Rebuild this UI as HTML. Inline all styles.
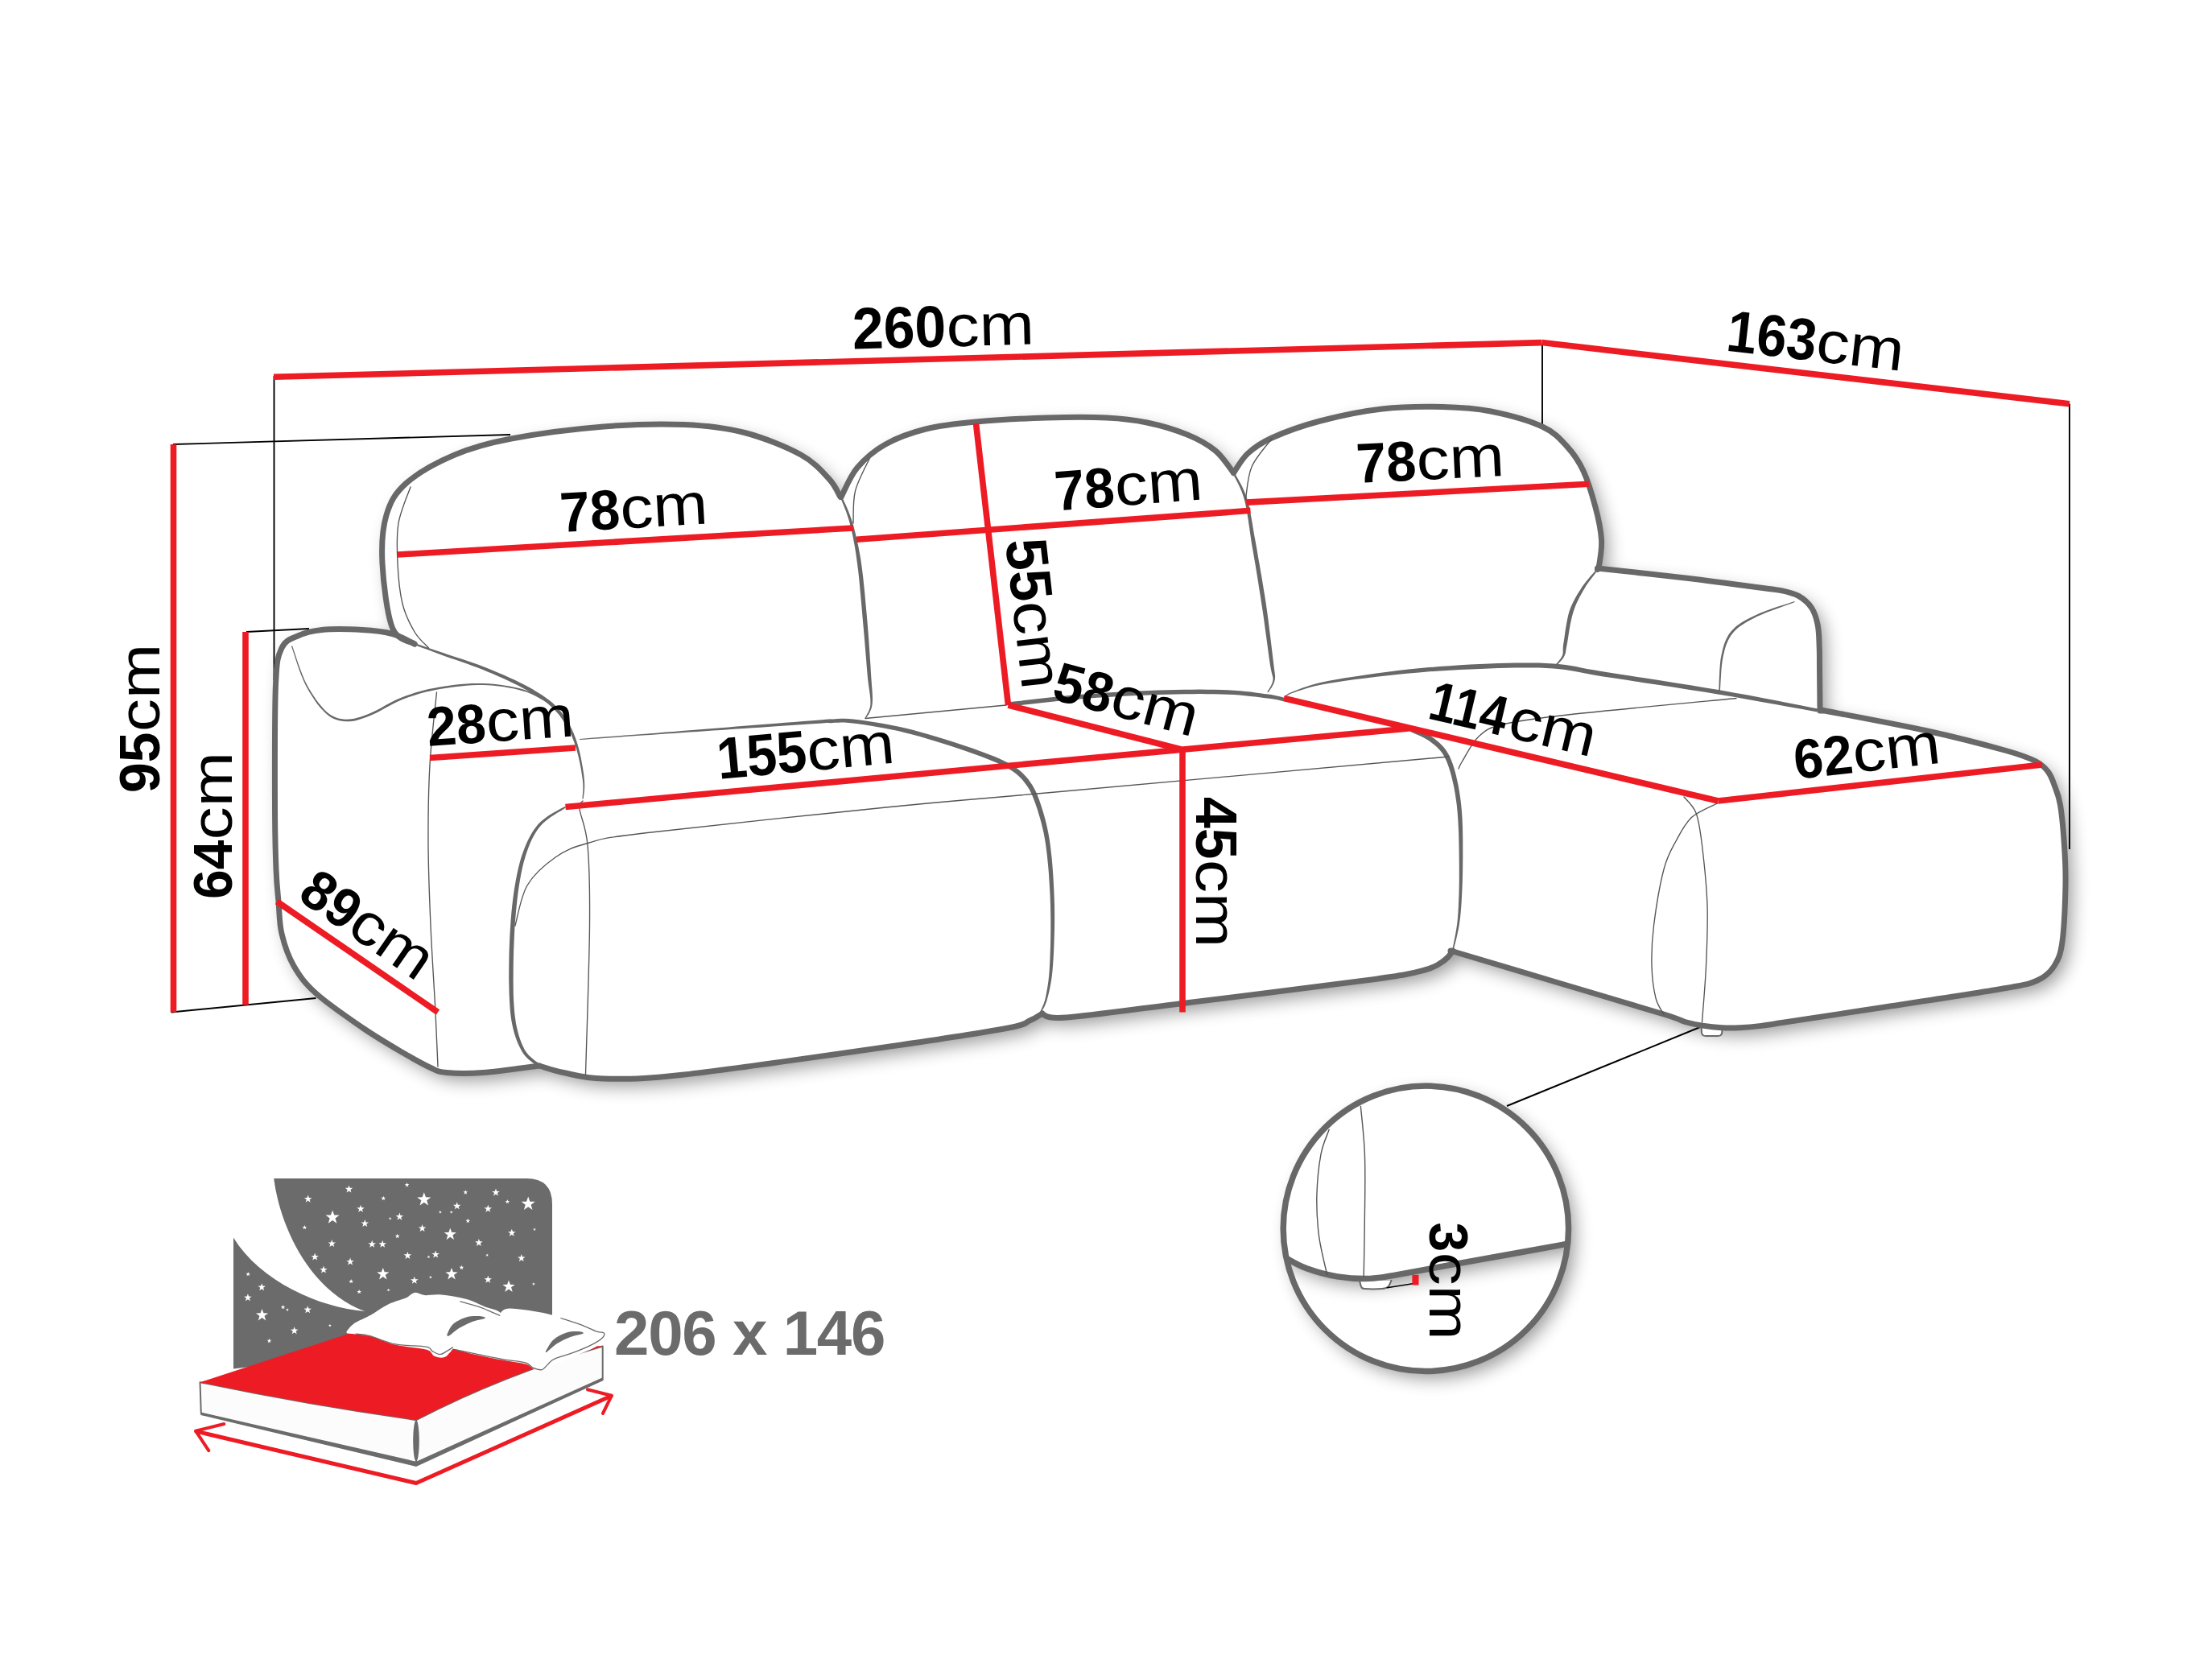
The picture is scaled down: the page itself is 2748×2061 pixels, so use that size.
<!DOCTYPE html>
<html><head><meta charset="utf-8"><title>Sofa dimensions</title>
<style>html,body{margin:0;padding:0;background:#fff}svg{display:block}text{font-family:"Liberation Sans",sans-serif;fill:#000}.b{font-weight:bold;font-size:73px}.r{font-weight:normal;font-size:73px}</style></head><body>
<svg width="2748" height="2061" viewBox="0 0 2748 2061">
<defs><filter id="sh" filterUnits="userSpaceOnUse" x="0" y="0" width="2748" height="2061"><feGaussianBlur in="SourceAlpha" stdDeviation="11"/><feOffset dx="8" dy="9"/><feComponentTransfer><feFuncA type="linear" slope="0.4"/></feComponentTransfer><feMerge><feMergeNode/><feMergeNode in="SourceGraphic"/></feMerge></filter><path id="st" d="M0,-10 L2.4,-3.2 9.5,-3.1 3.8,1.2 5.9,8.1 0,4 -5.9,8.1 -3.8,1.2 -9.5,-3.1 -2.4,-3.2Z" fill="#fff"/></defs>
<rect width="2748" height="2061" fill="#fff"/>
<g stroke="#000" stroke-width="1.9" fill="none">
<path d="M340.5,467 L340.5,845"/>
<path d="M215,552 L634,540"/>
<path d="M306,785 L384,781"/>
<path d="M212.5,1257.5 L392.5,1240"/>
<path d="M1916,427 L1916,529"/>
<path d="M2571,501.5 L2571,1055"/>
<path d="M1872,1374 L2114.5,1275"/>
</g>
<g fill="none" stroke="#686868" stroke-linecap="round" stroke-linejoin="round">
<path d="M1044,617.5 C1041.7,613.8 1038.2,603.8 1030,595 C1021.8,586.2 1012.5,574.6 995,565 C977.5,555.4 949.2,543.8 925,537.5 C900.8,531.2 879.2,528.8 850,527.5 C820.8,526.2 785.8,527.1 750,530 C714.2,532.9 665.8,539.2 635,545 C604.2,550.8 586.7,555.8 565,565 C543.3,574.2 519.2,587.5 505,600 C490.8,612.5 485,623.3 480,640 C475,656.7 473.8,676.7 475,700 C476.2,723.3 480.8,763.3 487.5,780 C494.2,796.7 510.4,796.7 515,800 L515,800 C510.4,797.9 498.3,790.4 487.5,787.5 C476.7,784.6 464.6,783.3 450,782.5 C435.4,781.7 413.3,781.2 400,782.5 C386.7,783.8 378.3,786.2 370,790 C361.7,793.8 354.6,795 350,805 C345.4,815 343.9,817.5 342.5,850 C341.1,882.5 341.4,961.7 341.5,1000 C341.6,1038.3 342.2,1060 343,1080 C343.8,1100 344.8,1106.7 346,1120 C347.2,1133.3 346.8,1146.7 350,1160 C353.2,1173.3 357.9,1187.7 365,1200 C372.1,1212.3 378.3,1221.2 392.5,1234 C406.7,1246.8 432.1,1264.2 450,1276.5 C467.9,1288.8 485.8,1299.2 500,1307.5 C514.2,1315.8 525.8,1322.3 535,1326.5 C544.2,1330.7 544.2,1331.5 555,1332.5 C565.8,1333.5 580.8,1333.9 600,1332.5 C619.2,1331.1 658.3,1325.4 670,1324 L670,1324 C675,1325.4 686.7,1329.8 700,1332.5 C713.3,1335.2 725,1339.6 750,1340 C775,1340.4 790.8,1341.7 850,1335 C909.2,1328.3 1038.8,1309.6 1105.5,1300 C1172.2,1290.4 1220.9,1282.9 1250,1277.5 C1279.1,1272.1 1272.5,1270.6 1280,1267.5 C1287.5,1264.4 1292.5,1260.4 1295,1259 L1295,1260 C1300,1260.7 1296,1266.2 1325,1264 C1354,1261.8 1406.5,1254.2 1469,1246.5 C1531.5,1238.8 1649.8,1224.4 1700,1217.5 C1750.2,1210.6 1754.2,1209.2 1770,1205 C1785.8,1200.8 1789.2,1196.5 1795,1192.5 C1800.8,1188.5 1803.3,1182.9 1805,1181 L1802,1181 C1824.1,1187.6 1890.3,1207.3 1934.5,1220.5 C1978.7,1233.7 2040.5,1251.8 2067,1260 C2093.5,1268.2 2085.3,1267.2 2093.3,1269.5 C2101.3,1271.8 2107.3,1272.9 2115,1274.1 C2122.7,1275.3 2131.7,1276.3 2139.4,1276.8 C2147.1,1277.2 2153,1277.2 2161.1,1276.8 C2169.2,1276.4 2179.2,1275.5 2188.2,1274.4 C2197.2,1273.3 2189.7,1274.2 2215.3,1270.3 C2240.9,1266.4 2295.9,1258.1 2342,1251 C2388.1,1243.9 2460.3,1233.1 2492,1227.5 C2523.7,1221.9 2522,1222.1 2532,1217.5 C2542,1212.9 2547,1207.9 2552,1200 C2557,1192.1 2559.7,1186.7 2562,1170 C2564.3,1153.3 2565.6,1120 2566,1100 C2566.4,1080 2565.6,1066.7 2564.5,1050 C2563.4,1033.3 2561.6,1012.5 2559.5,1000 C2557.4,987.5 2554.5,981.8 2552,975 C2549.5,968.2 2548.2,963.8 2544.5,959 C2540.8,954.2 2538.2,950.4 2529.5,946 C2520.8,941.6 2514.9,938.9 2492,932.5 C2469.1,926.1 2429.9,915.8 2392,907.5 C2354.1,899.2 2285.8,886.7 2264.5,882.5 L2264.5,882.5 L2264.5,882.5 L2264.5,883 L2261,883 C2261,879.2 2260.9,868.8 2260.8,860 C2260.7,851.2 2260.6,839.3 2260.5,830 C2260.4,820.7 2260.6,812.8 2260.2,804 C2259.8,795.2 2259.9,785.1 2258.3,777 C2256.7,768.9 2254.7,761.4 2250.7,755.3 C2246.7,749.2 2240.7,744 2234.4,740.4 C2228.1,736.8 2221.8,735.5 2212.7,733.6 C2203.6,731.8 2198.8,731.8 2180,729.3 C2161.2,726.8 2132.6,722.6 2100,718.7 C2067.4,714.8 2003.8,708.1 1984.5,706 L1984.5,707.5 C1984.9,706.2 1986.2,706.2 1987,700 C1987.8,693.8 1990.3,681.7 1989.5,670 C1988.7,658.3 1985.8,644.2 1982,630 C1978.2,615.8 1972.8,597.5 1967,585 C1961.2,572.5 1955.5,564.2 1947,555 C1938.5,545.8 1931.8,537.3 1916,530 C1900.2,522.7 1872.7,515.1 1852,511 C1831.3,506.9 1814.5,506 1792,505.5 C1769.5,505 1742.3,505.1 1717,508 C1691.7,510.9 1662.8,517 1640,523 C1617.2,529 1595,537.2 1580,544 C1565,550.8 1557.9,556.2 1550,563.5 C1542.1,570.8 1535.4,583.5 1532.5,587.5 L1532.5,587.5 C1528.8,582.9 1519.6,567.9 1510,560 C1500.4,552.1 1489.2,545.8 1475,540 C1460.8,534.2 1441.7,528.5 1425,525 C1408.3,521.5 1395.8,520 1375,519 C1354.2,518 1327.1,518.2 1300,519 C1272.9,519.8 1237.5,521.7 1212.5,524 C1187.5,526.3 1168.8,528.3 1150,533 C1131.2,537.7 1114.2,544 1100,552 C1085.8,560 1074.2,570.1 1065,581 C1055.8,591.9 1048.3,611.4 1045,617.5Z" fill="#fff" stroke="none" filter="url(#sh)"/>
<path d="M2113.6,1276 L2114,1283 Q2114.5,1287 2119,1287 L2134,1287 Q2138.8,1287 2139.2,1283 L2139.6,1276Z" fill="#fff" stroke-width="2"/>
<g stroke-width="7">
<path d="M515,800 C510.4,797.9 498.3,790.4 487.5,787.5 C476.7,784.6 464.6,783.3 450,782.5 C435.4,781.7 413.3,781.2 400,782.5 C386.7,783.8 378.3,786.2 370,790 C361.7,793.8 354.6,795 350,805 C345.4,815 343.9,817.5 342.5,850 C341.1,882.5 341.4,961.7 341.5,1000 C341.6,1038.3 342.2,1060 343,1080 C343.8,1100 344.8,1106.7 346,1120 C347.2,1133.3 346.8,1146.7 350,1160 C353.2,1173.3 357.9,1187.7 365,1200 C372.1,1212.3 378.3,1221.2 392.5,1234 C406.7,1246.8 432.1,1264.2 450,1276.5 C467.9,1288.8 485.8,1299.2 500,1307.5 C514.2,1315.8 525.8,1322.3 535,1326.5 C544.2,1330.7 544.2,1331.5 555,1332.5 C565.8,1333.5 580.8,1333.9 600,1332.5 C619.2,1331.1 658.3,1325.4 670,1324"/>
<path d="M670,1324 C675,1325.4 686.7,1329.8 700,1332.5 C713.3,1335.2 725,1339.6 750,1340 C775,1340.4 790.8,1341.7 850,1335 C909.2,1328.3 1038.8,1309.6 1105.5,1300 C1172.2,1290.4 1220.9,1282.9 1250,1277.5 C1279.1,1272.1 1272.5,1270.6 1280,1267.5 C1287.5,1264.4 1292.5,1260.4 1295,1259"/>
<path d="M1295,1260 C1300,1260.7 1296,1266.2 1325,1264 C1354,1261.8 1406.5,1254.2 1469,1246.5 C1531.5,1238.8 1649.8,1224.4 1700,1217.5 C1750.2,1210.6 1754.2,1209.2 1770,1205 C1785.8,1200.8 1789.2,1196.5 1795,1192.5 C1800.8,1188.5 1803.3,1182.9 1805,1181"/>
<path d="M1802,1181 C1824.1,1187.6 1890.3,1207.3 1934.5,1220.5 C1978.7,1233.7 2040.5,1251.8 2067,1260 C2093.5,1268.2 2085.3,1267.2 2093.3,1269.5 C2101.3,1271.8 2107.3,1272.9 2115,1274.1 C2122.7,1275.3 2131.7,1276.3 2139.4,1276.8 C2147.1,1277.2 2153,1277.2 2161.1,1276.8 C2169.2,1276.4 2179.2,1275.5 2188.2,1274.4 C2197.2,1273.3 2189.7,1274.2 2215.3,1270.3 C2240.9,1266.4 2295.9,1258.1 2342,1251 C2388.1,1243.9 2460.3,1233.1 2492,1227.5 C2523.7,1221.9 2522,1222.1 2532,1217.5 C2542,1212.9 2547,1207.9 2552,1200 C2557,1192.1 2559.7,1186.7 2562,1170 C2564.3,1153.3 2565.6,1120 2566,1100 C2566.4,1080 2565.6,1066.7 2564.5,1050 C2563.4,1033.3 2561.6,1012.5 2559.5,1000 C2557.4,987.5 2554.5,981.8 2552,975 C2549.5,968.2 2548.2,963.8 2544.5,959 C2540.8,954.2 2538.2,950.4 2529.5,946 C2520.8,941.6 2514.9,938.9 2492,932.5 C2469.1,926.1 2429.9,915.8 2392,907.5 C2354.1,899.2 2285.8,886.7 2264.5,882.5"/>
<path d="M2264.5,882.5 L2264.5,882.5"/>
<path d="M2264.5,883 L2261,883 C2261,879.2 2260.9,868.8 2260.8,860 C2260.7,851.2 2260.6,839.3 2260.5,830 C2260.4,820.7 2260.6,812.8 2260.2,804 C2259.8,795.2 2259.9,785.1 2258.3,777 C2256.7,768.9 2254.7,761.4 2250.7,755.3 C2246.7,749.2 2240.7,744 2234.4,740.4 C2228.1,736.8 2221.8,735.5 2212.7,733.6 C2203.6,731.8 2198.8,731.8 2180,729.3 C2161.2,726.8 2132.6,722.6 2100,718.7 C2067.4,714.8 2003.8,708.1 1984.5,706"/>
<path d="M1984.5,707.5 C1984.9,706.2 1986.2,706.2 1987,700 C1987.8,693.8 1990.3,681.7 1989.5,670 C1988.7,658.3 1985.8,644.2 1982,630 C1978.2,615.8 1972.8,597.5 1967,585 C1961.2,572.5 1955.5,564.2 1947,555 C1938.5,545.8 1931.8,537.3 1916,530 C1900.2,522.7 1872.7,515.1 1852,511 C1831.3,506.9 1814.5,506 1792,505.5 C1769.5,505 1742.3,505.1 1717,508 C1691.7,510.9 1662.8,517 1640,523 C1617.2,529 1595,537.2 1580,544 C1565,550.8 1557.9,556.2 1550,563.5 C1542.1,570.8 1535.4,583.5 1532.5,587.5"/>
<path d="M1532.5,587.5 C1528.8,582.9 1519.6,567.9 1510,560 C1500.4,552.1 1489.2,545.8 1475,540 C1460.8,534.2 1441.7,528.5 1425,525 C1408.3,521.5 1395.8,520 1375,519 C1354.2,518 1327.1,518.2 1300,519 C1272.9,519.8 1237.5,521.7 1212.5,524 C1187.5,526.3 1168.8,528.3 1150,533 C1131.2,537.7 1114.2,544 1100,552 C1085.8,560 1074.2,570.1 1065,581 C1055.8,591.9 1048.3,611.4 1045,617.5"/>
<path d="M1044,617.5 C1041.7,613.8 1038.2,603.8 1030,595 C1021.8,586.2 1012.5,574.6 995,565 C977.5,555.4 949.2,543.8 925,537.5 C900.8,531.2 879.2,528.8 850,527.5 C820.8,526.2 785.8,527.1 750,530 C714.2,532.9 665.8,539.2 635,545 C604.2,550.8 586.7,555.8 565,565 C543.3,574.2 519.2,587.5 505,600 C490.8,612.5 485,623.3 480,640 C475,656.7 473.8,676.7 475,700 C476.2,723.3 480.8,763.3 487.5,780 C494.2,796.7 510.4,796.7 515,800"/>
</g>
<path fill="#686868" stroke="none" d="M1044.1,617.9 1045,620.3 1046.2,623.4 1047.7,627 1049.4,631.2 1051.1,635.6 1052.8,640.4 1054.4,645.4 1055.8,650.5 1057.1,655.7 1058.3,661.1 1059.6,666.8 1060.7,672.8 1061.9,679.1 1063,685.7 1064,692.8 1065,700.3 1066.1,708.6 1067.1,717.5 1068,727 1068.9,736.8 1069.8,746.7 1070.7,756.6 1071.5,766.2 1072.3,775.2 1073.1,784 1073.9,792.9 1074.6,801.6 1075.3,810.2 1076,818.4 1076.6,826.3 1077.2,833.5 1077.8,840.2 1078.4,846.1 1079.1,851.5 1079.8,856.3 1080.4,860.6 1080.9,864.6 1081.3,868.2 1081.4,871.6 1081.4,874.9 1081,877.9 1080.2,880.7 1079.2,883.2 1078.1,885.5 1077,887.6 1075.9,889.4 1075,890.9 1074.4,892.2 1075.6,892.8 1076.3,891.6 1077.2,890.2 1078.4,888.4 1079.7,886.4 1080.9,884 1082.1,881.3 1083,878.4 1083.6,875.1 1083.9,871.7 1084,868.1 1083.9,864.4 1083.7,860.3 1083.4,855.9 1083,851.1 1082.6,845.7 1082.2,839.8 1081.8,833.2 1081.4,825.9 1080.8,818.1 1080.3,809.8 1079.7,801.2 1079.1,792.4 1078.4,783.6 1077.7,774.8 1076.9,765.7 1076,756.1 1075.1,746.3 1074.2,736.3 1073.2,726.5 1072.2,716.9 1071.1,707.9 1070,699.7 1068.8,692.1 1067.5,684.9 1066.2,678.2 1064.9,671.9 1063.5,665.9 1062.1,660.2 1060.7,654.8 1059.2,649.5 1057.5,644.4 1055.7,639.4 1053.8,634.6 1051.9,630.1 1050.1,626 1048.4,622.5 1047,619.5 1045.9,617.1Z M1531.6,588 1532.7,590.4 1534.3,593.4 1536.1,596.9 1538.2,600.9 1540.3,605.4 1542.3,610.1 1544.2,615.2 1545.8,620.5 1547.2,626.1 1548.4,632.1 1549.5,638.5 1550.6,645.2 1551.6,652.3 1552.7,659.7 1553.8,667.4 1555,675.4 1556.5,683.9 1558,692.8 1559.6,702.1 1561.2,711.7 1562.8,721.4 1564.3,731.2 1565.9,740.9 1567.3,750.4 1568.8,760.1 1570.3,770.4 1571.7,780.9 1573.1,791.3 1574.5,801.2 1575.7,810.4 1576.8,818.6 1577.8,825.3 1578.7,830.5 1579.5,834.3 1580.1,837.1 1580.7,839.1 1581.1,840.5 1581.4,841.7 1581.5,843 1581.4,844.8 1581,846.9 1580.2,849.1 1579.3,851.2 1578.2,853.3 1577,855.3 1575.9,857 1575,858.5 1574.4,859.7 1575.6,860.3 1576.2,859.2 1577.2,857.8 1578.4,856.1 1579.7,854.2 1580.9,852.1 1582.1,849.8 1583,847.5 1583.6,845.2 1584,843.2 1584.1,841.6 1584.1,840.1 1584,838.4 1583.7,836.4 1583.3,833.6 1582.8,829.8 1582.2,824.7 1581.4,818 1580.4,809.8 1579.3,800.6 1578.1,790.6 1576.8,780.2 1575.5,769.7 1574.1,759.4 1572.7,749.6 1571.2,740.1 1569.6,730.4 1568,720.6 1566.3,710.8 1564.7,701.2 1563,691.9 1561.5,683 1560,674.6 1558.5,666.6 1557.2,659 1556,651.6 1554.8,644.5 1553.5,637.7 1552.2,631.3 1550.8,625.2 1549.2,619.5 1547.3,614.1 1545.2,608.9 1542.9,604.1 1540.6,599.7 1538.4,595.7 1536.4,592.2 1534.7,589.3 1533.4,587Z M1983.9,707 1982.5,708.6 1980.5,710.7 1978.2,713.2 1975.7,716.1 1973.1,719.2 1970.4,722.4 1967.9,725.8 1965.5,729.1 1963.4,732.4 1961.2,735.8 1959.1,739.3 1957,742.9 1955,746.7 1953,750.7 1951.2,754.9 1949.6,759.2 1948.3,764.1 1947.1,769.4 1946.1,774.9 1945.1,780.6 1944.3,786 1943.6,791.2 1942.9,795.8 1942.3,799.6 1941.9,802.8 1941.7,805.4 1941.7,807.4 1941.7,809.1 1941.7,810.4 1941.6,811.7 1941.3,813 1940.9,814.5 1940,816.1 1938.9,817.9 1937.5,819.7 1936.1,821.5 1934.7,823.2 1933.3,824.7 1932.2,826 1931.4,827 1932.6,828 1933.4,827.1 1934.6,825.9 1936,824.5 1937.6,822.8 1939.2,821.1 1940.7,819.3 1942.1,817.4 1943.1,815.5 1943.9,813.9 1944.5,812.3 1944.9,810.9 1945.2,809.4 1945.4,807.7 1945.7,805.8 1946.1,803.4 1946.7,800.4 1947.4,796.5 1948.1,791.9 1948.9,786.7 1949.8,781.3 1950.8,775.8 1951.9,770.4 1953.1,765.3 1954.4,760.8 1955.8,756.6 1957.3,752.5 1959,748.6 1960.8,744.9 1962.6,741.3 1964.6,737.7 1966.5,734.3 1968.5,730.9 1970.5,727.6 1972.8,724.2 1975.2,720.9 1977.7,717.7 1980,714.7 1982.1,712 1983.8,709.7 1985.1,708Z M514.7,800.9 517.2,801.9 520.6,803.2 524.5,804.7 529,806.3 533.8,808.1 538.9,810 544.2,812 549.5,813.9 555,815.9 560.9,817.9 567.1,820 573.5,822.2 580,824.5 586.5,826.9 593,829.3 599.3,831.8 605.6,834.4 612.1,837.1 618.6,839.9 625.1,842.8 631.5,845.8 637.6,848.7 643.5,851.6 649,854.5 654.1,857.3 659,860 663.7,862.8 668.2,865.5 672.4,868.2 676.3,871 680.1,873.8 683.5,876.7 686.7,879.6 689.6,882.5 692.3,885.4 694.7,888.3 697,891.4 699.2,894.5 701.2,897.7 703.3,901 705.3,904.4 707.1,907.8 708.8,911.2 710.4,914.7 711.9,918.4 713.4,922.2 714.7,926.2 716.1,930.4 717.3,935 718.6,940 719.8,945.3 720.9,950.7 721.9,956 722.7,961.2 723.4,965.9 724,970.1 724.3,973.8 724.4,977.4 724.4,980.7 724.2,983.7 723.9,986.4 723.7,988.8 723.5,990.8 723.4,992.4 724.6,992.6 724.8,991 725.1,989 725.4,986.6 725.8,983.8 726.1,980.8 726.2,977.4 726.2,973.8 726,969.9 725.6,965.6 725,960.8 724.2,955.6 723.3,950.2 722.3,944.8 721.3,939.4 720.1,934.3 718.9,929.6 717.7,925.3 716.4,921.2 715.1,917.2 713.6,913.4 712.1,909.7 710.4,906.1 708.7,902.5 706.7,899 704.7,895.5 702.6,892.2 700.4,888.9 698.1,885.7 695.6,882.6 692.8,879.5 689.8,876.4 686.5,873.3 682.8,870.3 679,867.4 674.9,864.5 670.6,861.7 666,858.9 661.3,856.1 656.3,853.3 651,850.5 645.5,847.7 639.5,844.8 633.2,841.9 626.8,839 620.2,836.2 613.6,833.4 607.1,830.8 600.7,828.2 594.3,825.8 587.8,823.5 581.2,821.2 574.6,819 568.2,816.9 562,814.9 556,812.9 550.5,811.1 545.1,809.3 539.8,807.4 534.7,805.7 529.8,804 525.3,802.4 521.3,801.1 518,799.9 515.3,799.1Z M1030.1,898.2 1032.2,898.2 1034.8,898 1037.7,897.8 1041,897.7 1044.9,897.6 1049.3,897.6 1054.2,897.9 1059.7,898.5 1066,899.3 1073.2,900.3 1081,901.5 1089.2,902.9 1097.9,904.5 1106.7,906.2 1115.6,908.1 1124.4,910.2 1133.4,912.5 1142.9,915.1 1152.7,918 1162.6,921 1172.4,924 1181.9,927.1 1190.8,930.1 1199,932.8 1206.6,935.5 1213.8,938 1220.6,940.5 1227,942.9 1233,945.4 1238.6,947.8 1243.8,950.2 1248.6,952.7 1252.9,955 1256.6,957.3 1259.9,959.5 1262.8,961.7 1265.4,964 1267.9,966.4 1270.3,969 1272.6,971.9 1274.9,974.9 1277,977.9 1278.9,981.1 1280.6,984.4 1282.3,988 1283.9,992 1285.5,996.2 1287.2,1001 1288.9,1006 1290.5,1011.4 1292.2,1017 1293.8,1022.9 1295.3,1029.2 1296.8,1035.8 1298.1,1042.9 1299.3,1050.4 1300.3,1058.5 1301.3,1067.3 1302.2,1076.5 1303,1086.1 1303.6,1095.9 1304.2,1105.8 1304.7,1115.5 1305,1125.1 1305.2,1134.6 1305.3,1144.6 1305.3,1154.6 1305.2,1164.6 1305,1174.4 1304.7,1183.6 1304.4,1192.2 1304,1199.9 1303.6,1206.7 1303.1,1212.8 1302.5,1218.3 1301.8,1223.2 1301.1,1227.8 1300.3,1232 1299.6,1235.9 1298.8,1239.7 1297.9,1243.2 1296.9,1246.3 1295.8,1249.1 1294.7,1251.6 1293.7,1253.8 1292.7,1255.7 1291.9,1257.3 1291.3,1258.7 1292.7,1259.3 1293.4,1258 1294.3,1256.5 1295.3,1254.6 1296.5,1252.4 1297.8,1249.9 1299,1247.1 1300.2,1243.9 1301.2,1240.3 1302.2,1236.5 1303.2,1232.6 1304.1,1228.4 1305,1223.8 1305.9,1218.7 1306.7,1213.2 1307.4,1207 1308,1200.1 1308.5,1192.4 1309,1183.8 1309.4,1174.5 1309.7,1164.7 1310,1154.7 1310.1,1144.6 1310.1,1134.6 1310,1124.9 1309.7,1115.4 1309.3,1105.5 1308.8,1095.6 1308.2,1085.8 1307.5,1076.1 1306.7,1066.7 1305.7,1057.9 1304.7,1049.6 1303.6,1042 1302.3,1034.7 1300.9,1027.9 1299.4,1021.5 1297.8,1015.4 1296.2,1009.7 1294.5,1004.2 1292.8,999 1291.2,994.2 1289.5,989.8 1287.8,985.6 1286,981.8 1284.1,978.2 1282.1,974.7 1279.8,971.4 1277.4,968.1 1274.8,965.1 1272.2,962.2 1269.5,959.6 1266.6,957 1263.4,954.6 1259.9,952.2 1255.9,949.8 1251.4,947.3 1246.4,944.8 1241.1,942.3 1235.3,939.8 1229.2,937.4 1222.7,934.9 1215.9,932.4 1208.6,929.8 1201,927.2 1192.7,924.4 1183.7,921.5 1174.1,918.5 1164.3,915.5 1154.3,912.5 1144.4,909.7 1134.8,907.1 1125.6,904.8 1116.7,902.8 1107.8,900.9 1098.8,899.3 1090.1,897.8 1081.8,896.4 1073.9,895.3 1066.7,894.3 1060.3,893.5 1054.6,893 1049.4,892.8 1044.8,892.8 1040.8,892.9 1037.3,893.2 1034.4,893.4 1031.9,893.6 1029.9,893.8Z M1252.8,877.7 1260.3,876.9 1270.3,875.8 1282.1,874.5 1295.3,873 1309.3,871.6 1323.4,870.1 1337.3,868.8 1350.2,867.7 1362.7,866.8 1375.6,866 1388.6,865.3 1401.5,864.6 1414.3,864 1426.8,863.5 1438.8,863.1 1450.1,862.7 1460.8,862.5 1471.1,862.3 1481.1,862.2 1490.6,862.1 1499.8,862.2 1508.5,862.3 1516.9,862.5 1524.9,862.7 1532.5,863.1 1539.7,863.6 1546.6,864.2 1553.1,864.9 1559.2,865.6 1564.9,866.2 1570,866.9 1574.7,867.5 1578.7,868 1582.1,868.6 1585.1,869.1 1587.6,869.6 1589.7,870.1 1591.5,870.5 1593.1,870.9 1594.5,871.2 1595.5,866.8 1594.2,866.5 1592.7,866.1 1590.8,865.6 1588.7,865 1586.1,864.4 1583,863.8 1579.4,863.1 1575.3,862.5 1570.7,861.9 1565.5,861.2 1559.9,860.4 1553.7,859.6 1547.2,858.9 1540.2,858.2 1532.8,857.7 1525.1,857.3 1517.1,857 1508.6,856.8 1499.8,856.7 1490.6,856.6 1481,856.7 1471.1,856.8 1460.7,857 1449.9,857.3 1438.6,857.6 1426.6,858 1414.1,858.5 1401.3,859.1 1388.3,859.8 1375.2,860.5 1362.4,861.4 1349.8,862.3 1336.8,863.3 1322.9,864.6 1308.7,866.1 1294.7,867.6 1281.5,869 1269.7,870.4 1259.7,871.5 1252.2,872.3Z M1748.9,907.5 1751.3,908.6 1754.5,910.1 1758.4,911.7 1762.6,913.6 1766.9,915.6 1771.1,917.8 1774.9,920 1778.2,922.4 1781.1,924.8 1783.9,927.1 1786.5,929.5 1788.8,932 1791.1,934.8 1793.2,938 1795.2,941.7 1797.2,946.1 1799.2,951.3 1801.1,957 1802.9,963.3 1804.5,970 1806.1,977.1 1807.5,984.6 1808.7,992.4 1809.8,1000.3 1810.6,1008.7 1811.3,1017.7 1811.8,1027.2 1812.2,1036.9 1812.4,1046.8 1812.6,1056.5 1812.7,1066 1812.8,1075 1812.8,1083.8 1812.8,1092.5 1812.7,1101.2 1812.5,1109.6 1812.2,1117.8 1811.9,1125.6 1811.5,1133 1811,1139.9 1810.4,1146.3 1809.5,1152.5 1808.5,1158.4 1807.5,1163.8 1806.5,1168.8 1805.6,1173.2 1804.8,1176.9 1804.3,1179.8 1805.7,1180.2 1806.4,1177.3 1807.4,1173.6 1808.5,1169.3 1809.7,1164.3 1810.9,1158.8 1812.1,1152.9 1813.1,1146.7 1814,1140.1 1814.7,1133.3 1815.3,1125.8 1815.8,1118 1816.2,1109.8 1816.6,1101.3 1816.9,1092.6 1817.1,1083.8 1817.2,1075 1817.3,1066 1817.3,1056.5 1817.3,1046.7 1817.2,1036.8 1817,1027 1816.6,1017.4 1816,1008.3 1815.2,999.7 1814.2,991.6 1813,983.7 1811.7,976 1810.1,968.7 1808.5,961.8 1806.7,955.3 1804.8,949.3 1802.8,943.9 1800.6,939 1798.3,934.9 1795.9,931.2 1793.4,928 1790.7,925.2 1787.9,922.6 1784.9,920.1 1781.8,917.6 1778.1,915 1773.9,912.6 1769.4,910.4 1764.9,908.3 1760.6,906.5 1756.7,904.9 1753.5,903.5 1751.1,902.5Z M1595.8,866.5 1596.6,866 1597.3,865.4 1598.2,864.8 1599.2,864 1600.6,863.2 1602.4,862.3 1604.7,861.3 1607.8,860.2 1611.2,859.1 1615,857.8 1619,856.4 1623.6,855 1628.8,853.5 1634.9,852 1642,850.5 1650.3,849 1660,847.4 1671.2,845.8 1683.6,844.1 1696.7,842.4 1710.2,840.7 1723.9,839.2 1737.4,837.7 1750.2,836.5 1762.9,835.4 1775.7,834.3 1788.6,833.4 1801.4,832.7 1814.1,832 1826.5,831.4 1838.6,830.9 1850.1,830.5 1861.2,830.1 1871.9,829.8 1882.3,829.6 1892.4,829.5 1902.2,829.5 1911.7,829.6 1920.9,830 1929.8,830.5 1937.7,831.2 1944.4,832 1950.5,832.9 1956.4,834 1963,835.3 1970.6,836.8 1979.9,838.5 1991.5,840.5 2005.8,842.6 2022.3,845.1 2040.5,847.9 2059.8,850.8 2079.6,853.8 2099.2,856.9 2118,859.8 2135.5,862.7 2152.7,865.6 2170.4,868.7 2188.3,871.9 2205.6,875 2221.7,878 2236.2,880.6 2248.3,882.8 2257.6,884.5 2258.4,880.5 2249.1,878.7 2237,876.3 2222.6,873.5 2206.4,870.3 2189.2,867 2171.4,863.6 2153.6,860.4 2136.5,857.3 2118.9,854.4 2100.1,851.3 2080.4,848.2 2060.7,845.1 2041.4,842.1 2023.2,839.3 2006.7,836.8 1992.5,834.5 1981,832.6 1971.7,830.9 1964.1,829.5 1957.6,828.1 1951.5,827 1945.3,826 1938.4,825.2 1930.2,824.5 1921.1,824 1911.8,823.6 1902.2,823.5 1892.4,823.5 1882.2,823.6 1871.8,823.8 1861,824.1 1849.9,824.5 1838.3,825 1826.3,825.6 1813.8,826.3 1801.1,827.2 1788.2,828.1 1775.3,829.1 1762.4,830.3 1749.8,831.5 1736.8,833 1723.4,834.7 1709.7,836.5 1696.1,838.4 1683,840.4 1670.7,842.3 1659.5,844.2 1649.7,846 1641.4,847.7 1634.3,849.5 1628.2,851.2 1622.9,852.9 1618.3,854.5 1614.3,856 1610.7,857.5 1607.2,858.8 1604.2,859.9 1601.8,861 1599.9,862 1598.5,863 1597.4,863.8 1596.6,864.5 1595.9,865.1 1595.2,865.5Z M702,1001.7 699.3,1003.2 695.8,1005.1 691.5,1007.4 686.8,1010.1 681.9,1013.1 677.1,1016.4 672.6,1020 668.7,1023.8 665.4,1028 662.3,1032.3 659.5,1036.9 656.9,1041.8 654.4,1046.9 652.1,1052.4 649.9,1058.2 647.8,1064.3 645.9,1070.8 644.1,1077.7 642.5,1084.9 641,1092.4 639.7,1100.1 638.4,1108.1 637.3,1116.3 636.3,1124.7 635.4,1133.5 634.6,1142.7 634,1152.3 633.4,1162 633,1171.8 632.6,1181.5 632.4,1190.9 632.3,1200 632.2,1208.8 632.2,1217.6 632.4,1226.3 632.6,1234.8 633,1243 633.5,1250.9 634.1,1258.4 635,1265.4 636.1,1271.8 637.4,1277.8 638.9,1283.4 640.5,1288.6 642.3,1293.4 644.2,1297.9 646.2,1302.1 648.3,1306 650.7,1309.7 653.5,1313 656.5,1315.9 659.6,1318.5 662.5,1320.7 665.2,1322.5 667.3,1324.1 668.9,1325.3 671.1,1322.7 669.5,1321.3 667.3,1319.6 664.7,1317.7 662,1315.5 659.1,1313.1 656.4,1310.4 653.9,1307.3 651.7,1304 649.9,1300.3 648.1,1296.2 646.4,1291.9 644.8,1287.2 643.4,1282.1 642.1,1276.7 640.9,1270.9 640,1264.6 639.2,1257.9 638.6,1250.6 638.1,1242.8 637.8,1234.6 637.7,1226.2 637.6,1217.5 637.7,1208.8 637.7,1200 637.9,1191.1 638.1,1181.7 638.5,1172.1 638.9,1162.3 639.4,1152.6 640.1,1143.1 640.9,1134 641.7,1125.3 642.6,1117 643.6,1108.8 644.7,1100.9 646,1093.2 647.3,1085.9 648.8,1078.8 650.4,1072 652.2,1065.7 654.1,1059.6 656.1,1053.9 658.2,1048.6 660.4,1043.5 662.9,1038.8 665.5,1034.3 668.3,1030.1 671.3,1026.2 674.8,1022.4 679,1018.9 683.5,1015.5 688.2,1012.4 692.8,1009.6 697,1007.2 700.5,1005.1 703,1003.3Z M361.9,802.7 363.2,806.4 364.9,811.5 366.8,817.6 369,824.3 371.4,831.3 374,838.2 376.6,844.6 379.3,850.4 382,855.6 385,860.7 388.1,865.6 391.3,870.4 394.5,874.9 397.8,879 401.1,882.6 404.3,885.8 407.4,888.5 410.5,890.7 413.6,892.4 416.8,893.8 419.9,894.8 423.2,895.6 426.5,896.1 430,896.3 433.5,896.3 437.1,896 440.7,895.4 444.4,894.5 448.2,893.3 452.1,892 456.2,890.5 460.5,888.8 465.1,886.8 469.8,884.4 474.7,881.8 479.7,879 484.9,876.2 490,873.5 495.3,871 500.5,868.8 505.8,866.8 511.1,865 516.5,863.2 521.9,861.6 527.5,860.1 533.2,858.7 539.1,857.4 545.2,856.3 551.6,855.2 558.3,854.2 565.3,853.2 572.3,852.4 579.4,851.8 586.4,851.3 593.3,851.1 600,851.1 606.5,851.3 613.1,851.8 619.7,852.5 626.1,853.3 632.4,854.4 638.5,855.6 644.3,856.9 649.7,858.4 655,860.1 660.3,862.3 665.4,864.8 670.3,867.4 674.7,869.9 678.7,872.2 682.1,874.1 684.7,875.5 685.3,874.5 682.7,873 679.4,871 675.5,868.7 671,866.1 666.1,863.4 661,860.8 655.6,858.5 650.3,856.6 644.7,855.1 638.9,853.7 632.7,852.4 626.4,851.4 619.9,850.4 613.3,849.7 606.7,849.2 600,848.9 593.3,848.9 586.3,849 579.2,849.5 572.1,850.1 565,850.8 558,851.7 551.2,852.7 544.8,853.7 538.6,854.9 532.6,856.1 526.8,857.5 521.2,859 515.7,860.6 510.2,862.4 504.8,864.2 499.5,866.2 494.1,868.4 488.8,871 483.5,873.8 478.4,876.6 473.4,879.4 468.5,882 463.9,884.3 459.5,886.2 455.2,887.9 451.2,889.4 447.4,890.7 443.7,891.8 440.2,892.7 436.7,893.3 433.4,893.6 430,893.7 426.8,893.4 423.6,893 420.6,892.4 417.6,891.5 414.7,890.3 411.7,888.7 408.8,886.7 405.7,884.2 402.6,881.2 399.4,877.6 396.1,873.7 392.8,869.3 389.6,864.6 386.5,859.8 383.5,854.7 380.7,849.6 378,844 375.4,837.6 372.8,830.8 370.3,823.8 368.1,817.2 366.1,811.1 364.4,806.1 363.1,802.3Z M2229.3,746.9 2225.5,748.2 2220.3,749.9 2214.1,751.9 2207.3,754.1 2200.3,756.5 2193.4,759 2187,761.5 2181.5,763.9 2176.7,766.2 2172.2,768.4 2168,770.7 2164.1,773.1 2160.4,775.5 2156.9,778.1 2153.8,781 2150.9,784 2148.3,787.3 2146.2,790.7 2144.4,794.3 2142.8,797.9 2141.5,801.8 2140.3,805.9 2139.3,810.2 2138.3,814.8 2137.4,820 2136.8,826.1 2136.3,832.7 2136,839.3 2135.7,845.7 2135.5,851.5 2135.4,856.4 2135.3,860 2136.7,860 2137,856.5 2137.3,851.6 2137.6,845.8 2138,839.4 2138.4,832.8 2139,826.4 2139.8,820.4 2140.7,815.2 2141.8,810.8 2142.8,806.6 2144,802.6 2145.4,798.9 2146.9,795.5 2148.7,792.2 2150.7,789 2153.1,786 2155.8,783.1 2158.8,780.3 2162,777.8 2165.6,775.4 2169.4,773 2173.5,770.7 2177.9,768.5 2182.5,766.1 2187.9,763.7 2194.1,761.1 2201,758.4 2207.9,755.9 2214.7,753.5 2220.8,751.3 2225.9,749.5 2229.7,748.1Z M720,919.1 726.1,918.7 734.1,918.1 743.6,917.4 754.2,916.7 765.4,915.9 776.7,915.1 787.8,914.3 798.1,913.5 807.8,912.9 817.6,912.2 827.3,911.6 837.1,910.9 846.8,910.2 856.6,909.6 866.3,908.9 876.1,908.2 885.8,907.6 895.6,906.9 905.3,906.3 915.1,905.6 924.8,905 934.6,904.3 944.3,903.7 954.1,903 964.5,902.3 975.6,901.5 987,900.8 998.3,900 1008.9,899.3 1018.5,898.7 1026.6,898.1 1032.7,897.7 1032.3,893.3 1026.3,893.8 1018.2,894.4 1008.6,895.2 998,896 986.7,896.9 975.3,897.8 964.2,898.7 953.9,899.5 944.1,900.3 934.3,901.1 924.6,901.8 914.9,902.6 905.1,903.4 895.4,904.2 885.7,905 875.9,905.8 866.2,906.5 856.4,907.3 846.7,908.1 836.9,908.9 827.2,909.6 817.4,910.4 807.7,911.2 797.9,912 787.7,912.7 776.6,913.6 765.3,914.4 754.1,915.3 743.5,916.1 734,916.8 726,917.4 720,917.9Z"/>
<g stroke-width="1.35" stroke="#555">
<path d="M542.5,860 C541.1,875 535.8,918.3 534,950 C532.2,981.7 531.8,1016.7 532,1050 C532.2,1083.3 533.5,1115.4 535,1150 C536.5,1184.6 539.5,1228.3 541,1257.5 C542.5,1286.7 543.5,1313.8 544,1325"/>
<path d="M510,605 C507.5,612.5 497.7,634.2 495,650 C492.3,665.8 493.2,683.3 494,700 C494.8,716.7 496.5,735.8 500,750 C503.5,764.2 509.6,775.8 515,785 C520.4,794.2 529.6,801.7 532.5,805"/>
<path d="M724,995 C723.3,996.7 719,995.8 720,1005 C721,1014.2 727.9,1025.8 730,1050 C732.1,1074.2 732.9,1102.5 732.5,1150 C732.1,1197.5 728.3,1304.2 727.5,1335"/>
<path d="M640,1150 C642.5,1141.7 646.7,1114.2 655,1100 C663.3,1085.8 677.5,1073.8 690,1065 C702.5,1056.2 711.7,1052.5 730,1047.5 C748.3,1042.5 737.4,1042.5 800,1035 C862.6,1027.5 1022.2,1010.8 1105.5,1002.5 C1188.8,994.2 1184.2,995.4 1300,985 C1415.8,974.6 1716.7,947.5 1800,940"/>
<path d="M1080,570 C1077.1,576.7 1065.8,596.7 1062.5,610 C1059.2,623.3 1060.4,643.3 1060,650"/>
<path d="M1580,545 C1575.8,550.8 1560.4,567.5 1555,580 C1549.6,592.5 1548.8,613.3 1547.5,620"/>
<path d="M1075,892.5 L1250,876"/>
<path d="M1812,955 C1812.8,953.3 1812.8,951.7 1817,945 C1821.2,938.3 1828.7,922.5 1837,915 C1845.3,907.5 1847.8,904.6 1867,900 C1886.2,895.4 1903.7,892.9 1952,887.5 C2000.3,882.1 2122.8,870.8 2157,867.5"/>
<path d="M2134.5,997.5 C2129.1,1000.4 2110.8,1007.1 2102,1015 C2093.2,1022.9 2087.8,1034.2 2082,1045 C2076.2,1055.8 2071.6,1062.5 2067,1080 C2062.4,1097.5 2057,1130 2054.5,1150 C2052,1170 2051.6,1185 2052,1200 C2052.4,1215 2054.5,1230 2057,1240 C2059.5,1250 2065.3,1256.7 2067,1260"/>
<path d="M2092,990 C2094.5,993.3 2103.2,1000 2107,1010 C2110.8,1020 2112.2,1030.8 2114.5,1050 C2116.8,1069.2 2120.2,1100 2121,1125 C2121.8,1150 2120.6,1175.8 2119.5,1200 C2118.4,1224.2 2115.3,1258.3 2114.5,1270"/>
</g>
</g>
<g fill="none" stroke="#686868" stroke-linecap="round">
<clipPath id="cc"><circle cx="1771.4" cy="1526.3" r="176"/></clipPath>
<circle cx="1771.4" cy="1526.3" r="177.2" stroke="none" fill="#fff" filter="url(#sh)"/>
<g clip-path="url(#cc)">
<path stroke="none" fill="#fff" filter="url(#sh)" d="M1585.3,1554.2 C1587.4,1555.7 1591.6,1559.5 1598,1563 C1604.3,1566.6 1612.7,1571.9 1623.3,1575.7 C1633.8,1579.5 1648.2,1583.7 1661.3,1585.8 C1674.3,1587.9 1689.1,1588.8 1701.8,1588.4 C1714.4,1587.9 1718.6,1586.5 1737.2,1583.3 C1755.8,1580.1 1779.4,1575.5 1813.2,1569.4 C1846.9,1563.2 1915.3,1551.4 1939.7,1546.6 C1964.2,1541.7 1956.6,1541.3 1960,1540.3 L2000,1300 L1500,1300 Z"/>
<path stroke-width="2" fill="#fff" d="M1689.1,1590.9 C1689.5,1592.2 1690.1,1596.8 1691.1,1598.5 C1692.2,1600.2 1691.1,1600.6 1695.4,1601 C1699.7,1601.4 1712.1,1601.4 1717,1601 C1721.8,1600.6 1722.7,1600.2 1724.6,1598.5 C1726.5,1596.8 1727.7,1592.2 1728.4,1590.9"/>
<path stroke-width="7.4" d="M1585.3,1554.2 C1587.4,1555.7 1591.6,1559.5 1598,1563 C1604.3,1566.6 1612.7,1571.9 1623.3,1575.7 C1633.8,1579.5 1648.2,1583.7 1661.3,1585.8 C1674.3,1587.9 1689.1,1588.8 1701.8,1588.4 C1714.4,1587.9 1718.6,1586.5 1737.2,1583.3 C1755.8,1580.1 1779.4,1575.5 1813.2,1569.4 C1846.9,1563.2 1915.3,1551.4 1939.7,1546.6 C1964.2,1541.7 1956.6,1541.3 1960,1540.3"/>
<path stroke-width="1.4" stroke="#555" d="M1651.1,1403.5 C1649.5,1408.6 1643.5,1420.4 1641,1433.9 C1638.5,1447.4 1636.4,1467.7 1635.9,1484.6 C1635.5,1501.4 1636.4,1518.7 1638.5,1535.2 C1640.6,1551.6 1646.9,1575.3 1648.6,1583.3"/>
<path stroke-width="1.4" stroke="#555" d="M1690.4,1374.4 C1691.2,1384.3 1694.6,1411.4 1695.4,1433.9 C1696.3,1456.5 1695.7,1484.6 1695.4,1509.9 C1695.2,1535.2 1694.4,1573.2 1694.2,1585.8"/>
<path stroke-width="1.6" stroke="#000" d="M1723.3,1599.7 L1754.9,1594.7"/>
</g>
<circle cx="1771.4" cy="1526.3" r="177.2" stroke-width="7.5"/>
<rect x="1754.4" y="1583.8" width="8.1" height="12.7" fill="#ed1c24" stroke="none"/>
</g>
<g stroke="#ed1c24" stroke-width="7.6" fill="none">
<path d="M340,468.3 L1915.5,425.6"/>
<path d="M1915.5,425.6 L2571,501.8"/>
<path d="M215.5,552 L215.5,1257.5"/>
<path d="M305,785 L305,1248.5"/>
<path d="M344,1120 L544,1257.5"/>
<path d="M494,689 L1060,656"/>
<path d="M1064,670.3 L1553.5,634.3"/>
<path d="M1548.3,624.1 L1974,601.3"/>
<path d="M1212.5,526 L1252.5,876"/>
<path d="M1252.5,876 L1467.5,931"/>
<path d="M1469,931 L1469,1257.5"/>
<path d="M702.5,1002.5 L1750,905"/>
<path d="M534,941.5 L715,929"/>
<path d="M1595,867.5 L2134.5,995"/>
<path d="M2134.5,995 L2537,950"/>
</g>
<g transform="translate(1059.5,433.5) rotate(-1.5)"><text class="b" style="font-size:73px" transform="scale(0.956,1)">260</text><text class="r" style="font-size:73px" transform="translate(116.9,0) scale(1.12,1)">cm</text></g>
<g transform="translate(2143,435.5) rotate(6.6)"><text class="b" style="font-size:73px" transform="scale(0.917,1)">163</text><text class="r" style="font-size:73px" transform="translate(112.1,0) scale(1.12,1)">cm</text></g>
<g transform="translate(197.5,985) rotate(-90)"><text class="b" style="font-size:71px" transform="scale(0.956,1)">95</text><text class="r" style="font-size:73px" transform="translate(76,0) scale(1.12,1)">cm</text></g>
<g transform="translate(287.5,1117) rotate(-90)"><text class="b" style="font-size:69px" transform="scale(0.956,1)">64</text><text class="r" style="font-size:73px" transform="translate(73.8,0) scale(1.12,1)">cm</text></g>
<g transform="translate(368,1116) rotate(34.7)"><text class="b" style="font-size:69px" transform="scale(0.956,1)">89</text><text class="r" style="font-size:73px" transform="translate(73.8,0) scale(1.12,1)">cm</text></g>
<g transform="translate(697,661) rotate(-3.3)"><text class="b" style="font-size:70px" transform="scale(0.956,1)">78</text><text class="r" style="font-size:73px" transform="translate(74.9,0) scale(1.12,1)">cm</text></g>
<g transform="translate(532,927) rotate(-4)"><text class="b" style="font-size:69px" transform="scale(0.956,1)">28</text><text class="r" style="font-size:73px" transform="translate(73.8,0) scale(1.12,1)">cm</text></g>
<g transform="translate(893,968) rotate(-5.3)"><text class="b" style="font-size:73px" transform="scale(0.917,1)">155</text><text class="r" style="font-size:73px" transform="translate(112.1,0) scale(1.12,1)">cm</text></g>
<g transform="translate(1312,634.5) rotate(-4.4)"><text class="b" style="font-size:70px" transform="scale(0.956,1)">78</text><text class="r" style="font-size:73px" transform="translate(74.9,0) scale(1.12,1)">cm</text></g>
<g transform="translate(1686,600) rotate(-2.8)"><text class="b" style="font-size:70px" transform="scale(0.956,1)">78</text><text class="r" style="font-size:73px" transform="translate(74.9,0) scale(1.12,1)">cm</text></g>
<g transform="translate(1249,672) rotate(83.5)"><text class="b" style="font-size:73px" transform="scale(0.956,1)">55</text><text class="r" style="font-size:73px" transform="translate(78.1,0) scale(1.12,1)">cm</text></g>
<g transform="translate(1305,868) rotate(15)"><text class="b" style="font-size:69px" transform="scale(0.956,1)">58</text><text class="r" style="font-size:73px" transform="translate(73.8,0) scale(1.12,1)">cm</text></g>
<g transform="translate(1486,990) rotate(90)"><text class="b" style="font-size:73px" transform="scale(0.956,1)">45</text><text class="r" style="font-size:73px" transform="translate(78.1,0) scale(1.12,1)">cm</text></g>
<g transform="translate(1772,892) rotate(13.3)"><text class="b" style="font-size:69px" transform="scale(0.877,1)">114</text><text class="r" style="font-size:73px" transform="translate(101.4,0) scale(1.12,1)">cm</text></g>
<g transform="translate(2231,968) rotate(-6.4)"><text class="b" style="font-size:69px" transform="scale(0.956,1)">62</text><text class="r" style="font-size:73px" transform="translate(73.8,0) scale(1.12,1)">cm</text></g>
<g transform="translate(1776,1518.5) rotate(90)"><text class="b" style="font-size:69px" transform="scale(0.956,1)">3</text><text class="r" style="font-size:73px" transform="translate(37.2,0) scale(1.12,1)">cm</text></g>
<g>
<path fill="#6b6b6b" d="M340.2,1463.9 L654,1463.9 Q686,1463.9 686,1495.9 L686,1651.6 L290,1700.4 L290,1537.6 C323.1,1591.9 396.3,1624.4 453.3,1629.1 C382.7,1602.7 347.5,1521.4 340.2,1463.9Z"/>
<use href="#st" transform="translate(433.5,1477.4) scale(0.5)"/>
<use href="#st" transform="translate(505.6,1472) scale(0.3)"/>
<use href="#st" transform="translate(382.7,1489.6) scale(0.5)"/>
<use href="#st" transform="translate(476.3,1488.8) scale(0.3)"/>
<use href="#st" transform="translate(526.8,1490.2) scale(0.9)"/>
<use href="#st" transform="translate(578.3,1481.2) scale(0.3)"/>
<use href="#st" transform="translate(616,1481.5) scale(0.5)"/>
<use href="#st" transform="translate(630.4,1492.9) scale(0.3)"/>
<use href="#st" transform="translate(656.2,1495.6) scale(0.9)"/>
<use href="#st" transform="translate(448.1,1501.8) scale(0.5)"/>
<use href="#st" transform="translate(567.7,1498.3) scale(0.5)"/>
<use href="#st" transform="translate(546.9,1505.9) scale(0.2)"/>
<use href="#st" transform="translate(560.7,1505.9) scale(0.2)"/>
<use href="#st" transform="translate(606.3,1501.8) scale(0.5)"/>
<use href="#st" transform="translate(413.1,1512.4) scale(0.9)"/>
<use href="#st" transform="translate(496.4,1511.6) scale(0.5)"/>
<use href="#st" transform="translate(484.7,1513.8) scale(0.2)"/>
<use href="#st" transform="translate(453.3,1520) scale(0.5)"/>
<use href="#st" transform="translate(581.3,1516.8) scale(0.3)"/>
<use href="#st" transform="translate(378.4,1524.9) scale(0.3)"/>
<use href="#st" transform="translate(524.6,1526) scale(0.5)"/>
<use href="#st" transform="translate(559.3,1533.6) scale(0.8)"/>
<use href="#st" transform="translate(493.7,1535.8) scale(0.3)"/>
<use href="#st" transform="translate(635.8,1531.7) scale(0.5)"/>
<use href="#st" transform="translate(664,1527.3) scale(0.2)"/>
<use href="#st" transform="translate(412.3,1545) scale(0.5)"/>
<use href="#st" transform="translate(462.2,1545.8) scale(0.5)"/>
<use href="#st" transform="translate(475.2,1545.8) scale(0.5)"/>
<use href="#st" transform="translate(594.9,1543.9) scale(0.5)"/>
<use href="#st" transform="translate(391.2,1561.5) scale(0.5)"/>
<use href="#st" transform="translate(506.4,1559.9) scale(0.5)"/>
<use href="#st" transform="translate(541.2,1558.5) scale(0.5)"/>
<use href="#st" transform="translate(532.5,1561.5) scale(0.2)"/>
<use href="#st" transform="translate(605.2,1559.3) scale(0.2)"/>
<use href="#st" transform="translate(647.8,1563.1) scale(0.5)"/>
<use href="#st" transform="translate(435.1,1567.5) scale(0.5)"/>
<use href="#st" transform="translate(402,1577.5) scale(0.5)"/>
<use href="#st" transform="translate(573.4,1574.8) scale(0.3)"/>
<use href="#st" transform="translate(475.8,1582.9) scale(0.8)"/>
<use href="#st" transform="translate(561,1582.9) scale(0.8)"/>
<use href="#st" transform="translate(514.8,1590.8) scale(0.5)"/>
<use href="#st" transform="translate(534.9,1586.7) scale(0.2)"/>
<use href="#st" transform="translate(606.3,1589.7) scale(0.5)"/>
<use href="#st" transform="translate(436.2,1591.9) scale(0.3)"/>
<use href="#st" transform="translate(632,1598.4) scale(0.8)"/>
<use href="#st" transform="translate(662.9,1595.2) scale(0.2)"/>
<use href="#st" transform="translate(446.2,1604.9) scale(0.3)"/>
<use href="#st" transform="translate(482.6,1602.7) scale(0.2)"/>
<use href="#st" transform="translate(308.2,1582.9) scale(0.3)"/>
<use href="#st" transform="translate(325.2,1599.2) scale(0.5)"/>
<use href="#st" transform="translate(307.9,1612.2) scale(0.5)"/>
<use href="#st" transform="translate(351.6,1623.9) scale(0.3)"/>
<use href="#st" transform="translate(357,1627.2) scale(0.2)"/>
<use href="#st" transform="translate(382.2,1627.2) scale(0.5)"/>
<use href="#st" transform="translate(325.5,1633.9) scale(0.8)"/>
<use href="#st" transform="translate(409.9,1646.7) scale(0.2)"/>
<use href="#st" transform="translate(365.7,1653.2) scale(0.5)"/>
<use href="#st" transform="translate(334.5,1665.7) scale(0.3)"/>
<path fill="#fcfcfc" stroke="#6b6b6b" stroke-width="2" stroke-linejoin="round" d="M248.5,1717.2 Q382.7,1745.2 517,1764.1 L517,1818.4 L249.8,1756Z"/>
<path fill="#fcfcfc" stroke="#6b6b6b" stroke-width="2" stroke-linejoin="round" d="M517,1764.1 Q626.9,1707.2 748.7,1672.5 L748.7,1714 L517,1818.4Z"/>
<path fill="#6b6b6b" d="M249.8,1754.6 L517,1815.7 L517,1821.9 L249.3,1757.9Z"/>
<path fill="#6b6b6b" d="M517,1815.7 L748.7,1711.2 L749.2,1715 L517,1821.9Z"/>
<ellipse cx="517" cy="1789.9" rx="3.8" ry="25.8" fill="#6b6b6b"/>
<path fill="#ed1c24" d="M248.5,1717.2 L434.3,1656.5 L748.7,1672.5 Q626.9,1707.2 517,1764.1 Q382.7,1745.2 248.5,1717.2Z"/>
<path fill="#fff" stroke="#fff" stroke-width="3" stroke-linejoin="round" d="M562.4,1673.9 C567.7,1670.4 584.3,1660 594.1,1653.3 C603.8,1646.6 614.9,1637.9 620.9,1633.5 C627,1629.2 624.4,1627.8 630.4,1627.2 C636.5,1626.5 647.6,1628.1 657.3,1629.6 C667.1,1631 678.4,1633.2 689,1635.9 C699.5,1638.5 711.9,1642.5 720.6,1645.4 C729.3,1648.3 736.3,1651.7 741.2,1653.3 C746.1,1654.9 748.4,1653 749.9,1654.9 C751.4,1656.8 752.3,1661.6 750.1,1664.7 C747.8,1667.8 742.7,1670.4 736.5,1673.5 C730.2,1676.7 720.6,1680.4 712.7,1683.7 C704.8,1686.9 694.3,1690.8 689,1693.2 C683.7,1695.5 683.7,1696.5 681.1,1697.9 C678.4,1699.3 676.1,1701.1 673.2,1701.4 C670.3,1701.7 666.8,1700.9 663.7,1699.5 C660.5,1698.1 660.5,1695 654.2,1693.2 C647.8,1691.3 635.7,1690.3 625.7,1688.4 C615.7,1686.6 604.6,1684.5 594.1,1682.1 C583.5,1679.7 567.7,1675.2 562.4,1673.9Z"/>
<path fill="#fff" stroke="#fff" stroke-width="3" stroke-linejoin="round" d="M431.9,1654.9 C433.3,1653.3 436,1648.5 440.6,1645.4 C445.2,1642.2 452.4,1639.8 459.6,1635.9 C466.7,1631.9 475.6,1625.3 483.3,1621.6 C490.9,1618 500.2,1616.1 505.4,1613.7 C510.7,1611.4 511.2,1607.9 514.9,1607.4 C518.6,1606.9 522.3,1610.2 527.6,1610.6 C532.9,1611 538.1,1609 546.6,1609.8 C555,1610.6 569,1612.8 578.2,1615.3 C587.5,1617.8 594.8,1621.8 602,1624.8 C609.1,1627.8 620.9,1628.8 620.9,1633.5 C620.9,1638.3 611.2,1646.8 602,1653.3 C592.7,1659.8 573,1667.9 565.6,1672.3 C558.2,1676.6 560,1677.3 557.7,1679.4 C555.3,1681.5 554.2,1684.3 551.3,1684.9 C548.4,1685.6 543.7,1684.9 540.3,1683.4 C536.8,1681.8 538.9,1677.8 530.8,1675.4 C522.6,1673.1 503.1,1672 491.2,1669.1 C479.3,1666.3 469.4,1660.7 459.6,1658.4 C449.7,1656 436.5,1655.5 431.9,1654.9Z"/>
<g fill="none" stroke="#6b6b6b" stroke-width="1.3" stroke-linecap="round">
<path d="M442.2,1657.2 C445.1,1657.6 451.4,1657.5 459.6,1659.6 C467.7,1661.7 479.6,1667.7 491.2,1669.9 C502.8,1672.1 521.5,1671.6 529.2,1673.1 C536.8,1674.5 534.2,1677 537.1,1678.6 C540,1680.2 543.7,1682.5 546.6,1682.6 C549.5,1682.6 551.9,1680.4 554.5,1678.9 C557.1,1677.5 561.1,1674.7 562.4,1673.9"/>
<path d="M571.9,1616.9 C575.6,1618 587.7,1621.1 594.1,1623.2 C600.4,1625.3 605.4,1627.7 609.9,1629.6 C614.4,1631.4 619.1,1633.5 620.9,1634.3"/>
<path d="M565.6,1676.7 C570.3,1677.7 584,1680.5 594.1,1682.6 C604.1,1684.6 615.9,1687.2 625.7,1688.9 C635.5,1690.6 646.5,1691.1 652.6,1692.8 C658.7,1694.6 658.7,1697.7 662.1,1699.2 C665.5,1700.6 670,1702.3 673.2,1701.6 C676.3,1700.8 678.4,1696.7 681.1,1694.4 C683.7,1692.2 683.7,1690.5 689,1688.1 C694.3,1685.7 704.8,1683.2 712.7,1680.2 C720.6,1677.2 730.4,1673.1 736.5,1669.9 C742.5,1666.7 746.9,1663.6 749.1,1661.2 C751.4,1658.8 751.2,1656.9 749.9,1655.7 C748.6,1654.5 746.1,1655.8 741.2,1654.1 C736.3,1652.4 728,1648.1 720.6,1645.4 C713.2,1642.6 700.9,1638.8 696.9,1637.5"/>
</g>
<path fill="#6b6b6b" d="M555.3,1658 C556.5,1655.9 558.6,1648.9 562.4,1645.4 C566.2,1641.8 573,1638.4 578.2,1636.7 C583.5,1635 590,1635 594.1,1635.1 C598.1,1635.2 604.1,1636.3 602.8,1637.5 C601.4,1638.7 591.5,1640.1 586.1,1642.2 C580.7,1644.3 575.1,1647.2 570.3,1650.1 C565.6,1653 560.2,1658.3 557.7,1659.6 C555.2,1660.9 555.7,1658.3 555.3,1658Z"/>
<path fill="#6b6b6b" d="M677.9,1678.6 C679.5,1676.2 683.2,1668.2 687.4,1664.4 C691.6,1660.5 698.2,1657.4 703.2,1655.7 C708.2,1654 713.9,1654 717.5,1654.1 C721,1654.2 726.2,1655.3 724.6,1656.5 C723,1657.6 713.4,1659.1 708,1661.2 C702.6,1663.3 696.9,1666.1 692.2,1669.1 C687.4,1672.1 681.9,1677.8 679.5,1679.4 C677.1,1681 678.2,1678.7 677.9,1678.6Z"/>
<g stroke="#ed1c24" fill="none" stroke-linecap="round" stroke-linejoin="round">
<path stroke-width="5" d="M243.9,1778.2 L517,1842.5 L759.2,1734.3"/>
<path stroke-width="4" d="M278.3,1769 L243.1,1777.7 L259.3,1802.1"/>
<path stroke-width="4" d="M729.9,1726.2 L759.8,1733.8 L748.9,1756"/>
</g>
</g>
<text x="763" y="1683" style="font-weight:bold;font-size:78px;fill:#6b6b6b;letter-spacing:-1.2px">206 x 146</text>
</svg></body></html>
